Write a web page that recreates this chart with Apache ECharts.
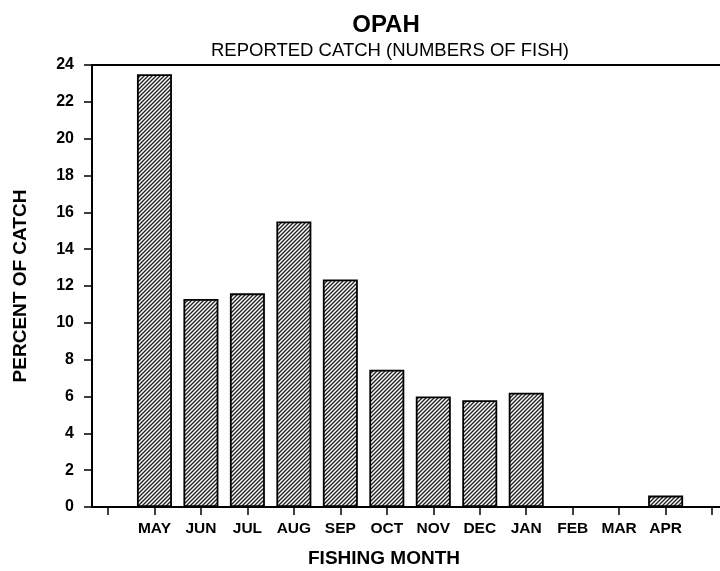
<!DOCTYPE html>
<html><head><meta charset="utf-8">
<script src="https://cdn.jsdelivr.net/npm/echarts@6/dist/echarts.min.js"></script>
<style>html,body{margin:0;padding:0;background:#fff}#c{width:720px;height:571px}</style>
</head><body><div id="c"></div>
<script>
var months = ['MAY','JUN','JUL','AUG','SEP','OCT','NOV','DEC','JAN','FEB','MAR','APR'];
var percents = [23.5, 11.3, 11.6, 15.5, 12.35, 7.45, 6.0, 5.8, 6.2, 0, 0, 0.62];
var yTicks = [0,2,4,6,8,10,12,14,16,18,20,22,24];
var xTickPositions = [0,1,2,3,4,5,6,7,8,9,10,11,12,13];

var pc = document.createElement('canvas');
pc.width = 4; pc.height = 4;
var g = pc.getContext('2d');
g.fillStyle = '#fff'; g.fillRect(0,0,4,4);
g.strokeStyle = '#222'; g.lineWidth = 1.4;
g.beginPath();
g.moveTo(-1,5); g.lineTo(5,-1);
g.moveTo(-1,1); g.lineTo(1,-1);
g.moveTo(3,5); g.lineTo(5,3);
g.stroke();

var font = 'Liberation Sans';
var data = months.map(function(m,i){ return [i+1, percents[i]]; });

var chart = echarts.init(document.getElementById('c'));
chart.setOption({
  animation: false,
  title: [
    {text: 'OPAH', left: 381, top: 8, textAlign: 'center',
     textStyle: {fontFamily: font, fontWeight: 'bold', fontSize: 24, color: '#000'}},
    {text: 'REPORTED CATCH (NUMBERS OF FISH)', left: 385, top: 36, textAlign: 'center',
     textStyle: {fontFamily: font, fontWeight: 'normal', fontSize: 18.5, color: '#000'}}
  ],
  grid: {left: 92, right: 0, top: 65, bottom: 64, outerBoundsMode: 'none', containLabel: false},
  xAxis: [{
    type: 'value', min: -0.344, max: 13.17,
    splitLine: {show: false},
    axisLine: {show: true, onZero: false, lineStyle: {color: '#000', width: 2}},
    axisTick: {show: true, length: 8, customValues: xTickPositions, lineStyle: {color: '#000', width: 1.5}},
    axisLabel: {show: true, customValues: [1,2,3,4,5,6,7,8,9,10,11,12], margin: 14,
      formatter: function(v){ return months[Math.round(v)-1] || ''; },
      fontFamily: font, fontWeight: 'bold', fontSize: 15.5, color: '#000'},
    name: 'FISHING MONTH', nameLocation: 'middle', nameGap: 42,
    nameTextStyle: {fontFamily: font, fontWeight: 'bold', fontSize: 19, color: '#000', padding: [0,44,0,0]}
  },{
    type: 'value', position: 'top', min: -0.344, max: 13.17,
    splitLine: {show: false},
    axisLine: {show: true, onZero: false, lineStyle: {color: '#000', width: 2}},
    axisTick: {show: false}, axisLabel: {show: false}
  }],
  yAxis: {
    type: 'value', min: 0, max: 24, interval: 2,
    splitLine: {show: false},
    axisLine: {show: true, onZero: false, lineStyle: {color: '#000', width: 2}},
    axisTick: {show: true, length: 8, lineStyle: {color: '#000', width: 1.5}},
    axisLabel: {fontFamily: font, fontWeight: 'bold', fontSize: 16, color: '#000', margin: 18},
    name: 'PERCENT OF CATCH', nameLocation: 'middle', nameGap: 62, nameRotate: 90,
    nameTextStyle: {fontFamily: font, fontWeight: 'bold', fontSize: 19, color: '#000'}
  },
  series: [{
    type: 'bar', xAxisIndex: 0, data: data, barWidth: 35,
    itemStyle: {color: {image: pc, repeat: 'repeat'}, borderColor: '#000', borderWidth: 1.8}
  }]
});
</script></body></html>
